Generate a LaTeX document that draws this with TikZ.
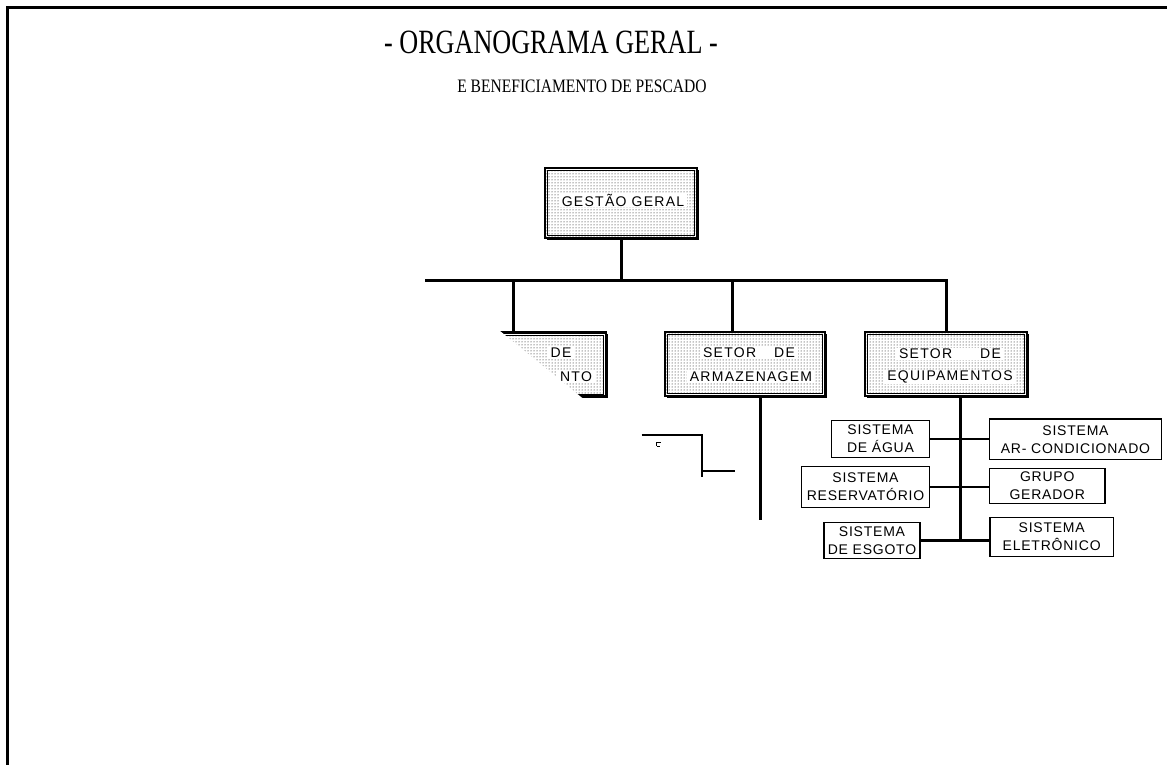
\documentclass[tikz,border=0pt]{standalone}
\usepackage{fontspec}
\setmainfont{Liberation Serif}
\newfontfamily\titlefont{Liberation Serif}[FakeStretch=0.77]
\newfontfamily\subtitlefont{Liberation Serif}[FakeStretch=0.82]
\newfontfamily\boxfont{Liberation Sans}[LetterSpace=5.5]
\newfontfamily\topfont{Liberation Sans}[LetterSpace=9]
\usetikzlibrary{patterns,shadows}

\tikzset{
  topbox/.style={general shadow={fill=black,shadow xshift=1.5pt,shadow yshift=-1.5pt},
    preaction={fill=white}, pattern=dots, pattern color=black,
    draw, line width=2.2pt, minimum width=#1, minimum height=64pt, inner sep=0pt},
  topbox/.default=160pt,
  innerline/.style={line width=.6pt},
  topline/.style={fill=white, inner xsep=3pt, inner ysep=1pt, font=\topfont\fontsize{14}{16}\selectfont},
  subbox/.style={draw, line width=1.2pt, fill=white, align=center, inner sep=0pt,
    font=\boxfont\fontsize{14}{18}\selectfont},
  bus/.style={line width=3pt},
  branch/.style={line width=2.5pt},
  stray/.style={line width=1.6pt}
}

\begin{document}
\begin{tikzpicture}[x=1pt,y=-1pt]
\useasboundingbox (0,0) rectangle (1167,765);

\draw[line width=3pt] (7.5,765)--(7.5,7.5)--(1167,7.5);

\node (title) at (551,42){\titlefont\fontsize{34}{36}\selectfont - ORGANOGRAMA GERAL -};
\node (subtitle) at (582,86){\subtitlefont\fontsize{19}{21}\selectfont E BENEFICIAMENTO DE PESCADO};

% caixas de topo
\node[topbox=152pt,minimum height=70pt] (gestao) at (621,203){};
\node[topbox] (benef) at (526,364.5){};
\node[topbox] (arm) at (745,364){};
\node[topbox=162pt] (equip) at (946,364){};
\foreach \n in {gestao,benef,arm,equip}
  \draw[innerline] ([xshift=3.5pt,yshift=-3.5pt]\n.north west) rectangle ([xshift=-3.5pt,yshift=3.5pt]\n.south east);

\node[topline,minimum width=128pt] (gtxt) at (623,200){GEST\~AO GERAL};
\node[topline] (b1) at (561,353){DE};
\node[topline] (b2) at (576,377){NTO};
\node[topline] (a1) at (749,353){SETOR\hspace{18pt}DE};
\node[topline] (a2) at (751,377){ARMAZENAGEM};
\node[topline] (e1) at (950,354){SETOR\hspace{28pt}DE};
\node[topline] (e2) at (950,377){EQUIPAMENTOS};

\fill[white] (430,324)--(497,324)--(500,331)--(586,401)--(430,401)--cycle;

% ligacoes
\coordinate (busL) at (425,280);
\coordinate (bdrop) at (513.3,333);
\coordinate (adrop) at (732,333);
\draw[bus] (gestao.south)--(gestao.south |- busL);
\draw[bus] (busL)--(busL -| equip.north)--(equip.north);
\draw[bus] (bdrop |- busL)--(bdrop);
\draw[bus] (adrop |- busL)--(adrop);

\coordinate (armend) at (760,520);
\draw[bus] (arm.south -| armend)--(armend);

\draw[stray] (641.7,435)--(701.7,435)--(701.7,476.7);
\draw[stray] (701.7,470.7)--(735,470.7);
\draw[line width=.8pt] (660.5,442.5)--(656.5,442.5)--(656.5,446) (656.5,446.5)--(659.5,446.5);

% sistemas
\node[subbox,minimum width=97.6pt,minimum height=36.6pt] (agua) at (880.5,439){SISTEMA\\DE \'AGUA};
\node[subbox,minimum width=172.4pt,minimum height=40.3pt] (arcond) at (1075.5,439.2){SISTEMA\\AR- CONDICIONADO};
\node[subbox,minimum width=127.6pt,minimum height=40.6pt] (reserv) at (865.5,487){SISTEMA\\RESERVAT\'ORIO};
\node[subbox,minimum width=115.7pt,minimum height=35pt] (gerador) at (1047.2,485.8){GRUPO\\GERADOR};
\node[subbox,minimum width=96pt,minimum height=35.6pt] (esgoto) at (872,540.5){SISTEMA\\DE ESGOTO};
\node[subbox,minimum width=123.3pt,minimum height=39.4pt] (eletron) at (1051.7,537){SISTEMA\\ELETR\^ONICO};

\coordinate (eqend) at (960,541.7);
\draw[bus] (equip.south -| eqend)--(eqend);
\draw[branch] (agua.east)--(agua.east -| arcond.west);
\draw[branch] (reserv.east)--(reserv.east -| gerador.west);
\draw[branch] (esgoto.east)--(esgoto.east -| eletron.west);
\end{tikzpicture}
\end{document}
